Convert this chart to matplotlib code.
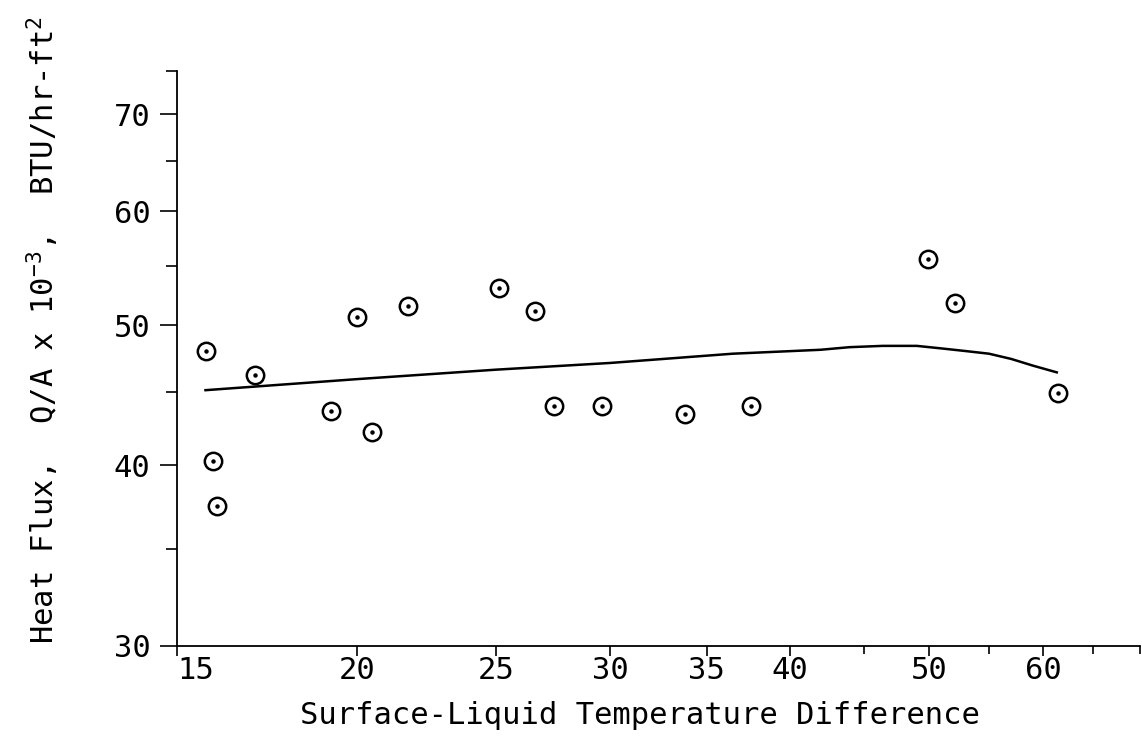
import numpy as np
from matplotlib import pyplot as plt
from matplotlib.ticker import FixedLocator, NullFormatter

# data (log-log)
dt = [15.7, 15.9, 16.0, 17.0, 19.2, 20.0, 20.5, 21.7, 25.1, 26.6,
      27.4, 29.6, 33.8, 37.6, 49.9, 52.1, 61.4]
flux = [48.0, 40.3, 37.5, 46.2, 43.6, 50.7, 42.2, 51.6, 53.1, 51.2,
        44.0, 44.0, 43.4, 44.0, 55.6, 51.8, 44.9]

curve_dt = [15.7, 20, 25, 30, 36.5, 42, 44, 46.4, 49, 51, 53, 55, 57, 59, 61.3]
curve_flux = [45.1, 45.9, 46.6, 47.1, 47.8, 48.1, 48.3, 48.4, 48.4, 48.2,
              48.0, 47.8, 47.4, 46.9, 46.4]

x_major = [15, 20, 25, 30, 35, 40, 50, 60]
x_minor = [45, 55, 65, 70]
y_major = [30, 40, 50, 60, 70]
y_minor = [35, 45, 55, 65, 75]

plt.rcParams['font.family'] = ['DejaVu Sans Mono']
plt.rcParams['mathtext.default'] = 'regular'

fig = plt.figure(figsize=(11.42, 7.38), dpi=100)
ax = fig.add_axes([0.155, 0.1247, 0.843, 0.779])

ax.plot(curve_dt, curve_flux, color="k", lw=1.8, zorder=2)
ax.plot(dt, flux, linestyle="none", marker="o", markersize=12.5,
        markerfacecolor="white", markeredgecolor="k", markeredgewidth=1.8, zorder=3)
ax.plot(dt, flux, linestyle="none", marker="o", markersize=2.2,
        color="k", zorder=4)

ax.set_xscale("log")
ax.set_yscale("log")
ax.set_xlim(15, 70)
ax.set_ylim(30, 75)

ax.xaxis.set_major_locator(FixedLocator(x_major))
ax.xaxis.set_minor_locator(FixedLocator(x_minor))
ax.yaxis.set_major_locator(FixedLocator(y_major))
ax.yaxis.set_minor_locator(FixedLocator(y_minor))
ax.set_xticklabels([str(v) for v in x_major])
ax.set_yticklabels([str(v) for v in y_major])
ax.xaxis.set_minor_formatter(NullFormatter())
ax.yaxis.set_minor_formatter(NullFormatter())
ax.get_xticklabels()[0].set_ha("left")

ax.tick_params(axis="x", which="major", direction="out", length=7, width=1.2,
               pad=0, labelsize=22)
ax.tick_params(axis="x", which="minor", direction="out", length=6, width=1.2)
ax.tick_params(axis="y", which="major", direction="out", length=12, width=1.2,
               pad=7, labelsize=22)
ax.tick_params(axis="y", which="minor", direction="out", length=8, width=1.2)

for side in ["top", "right"]:
    ax.spines[side].set_visible(False)
for side in ["left", "bottom"]:
    ax.spines[side].set_linewidth(1.3)

ax.set_xlabel("Surface-Liquid Temperature Difference", fontsize=22)
ax.xaxis.set_label_coords(0.481, -0.095)
ax.set_ylabel("Heat Flux,  Q/A x 10$^{-3}$,  BTU/hr-ft$^{2}$", fontsize=22)
ax.yaxis.set_label_coords(-0.121, 0.55)

fig.savefig("out.png", dpi=100)
